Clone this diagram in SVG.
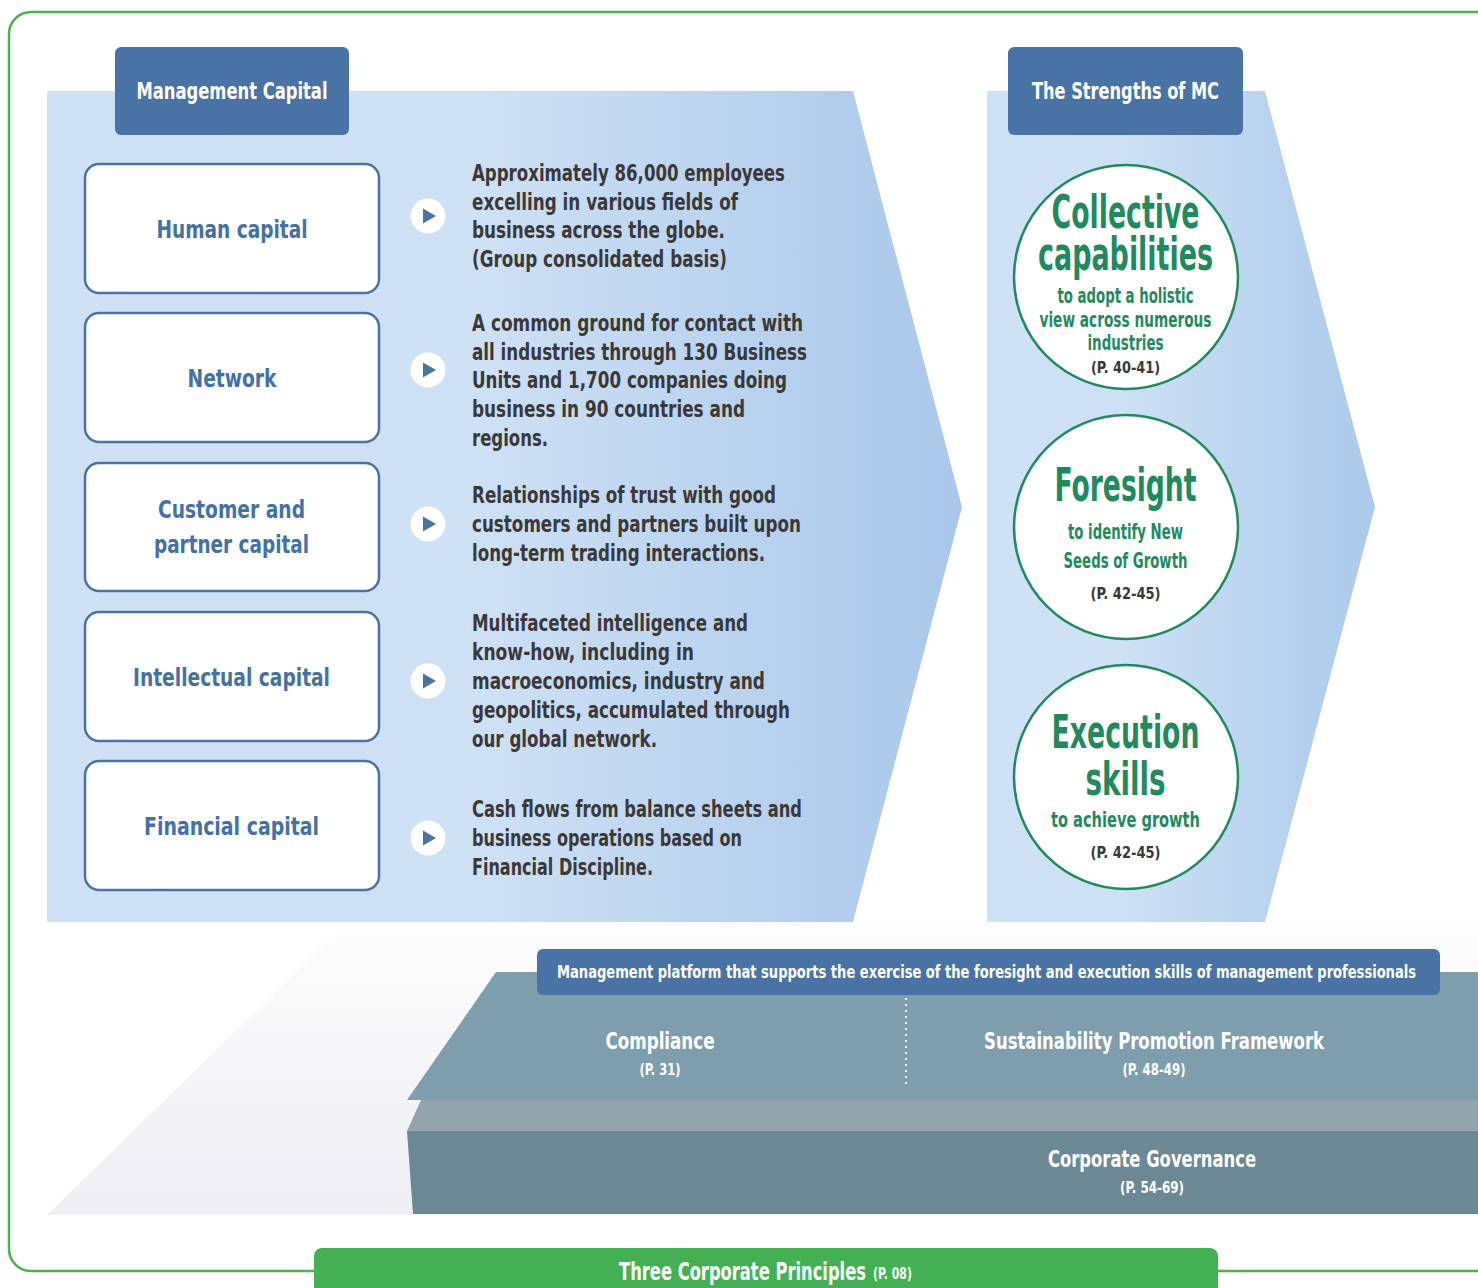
<svg xmlns="http://www.w3.org/2000/svg" width="1478" height="1288" viewBox="0 0 1478 1288">
<defs>
<linearGradient id="gLeft" x1="0" y1="0" x2="1" y2="0">
<stop offset="0" stop-color="#cfe1f5"/><stop offset="0.48" stop-color="#cde0f4"/><stop offset="1" stop-color="#a9c7ea"/>
</linearGradient>
<linearGradient id="gRight" x1="0" y1="0" x2="1" y2="0">
<stop offset="0" stop-color="#cfe1f5"/><stop offset="0.35" stop-color="#cde0f4"/><stop offset="1" stop-color="#abc9eb"/>
</linearGradient>
<linearGradient id="gGround" x1="0" y1="0" x2="0" y2="1">
<stop offset="0" stop-color="#fdfdfd"/><stop offset="1" stop-color="#eeeef3"/>
</linearGradient>
<style>
text{font-family:"Liberation Sans Narrow","DejaVu Sans Condensed","Liberation Sans",sans-serif;font-weight:bold;}
.tab{fill:#4a73a5;}
.tabt{fill:#ffffff;font-size:23px;text-anchor:middle;}
.box{fill:#ffffff;stroke:#4a73a5;stroke-width:2.5;}
.boxt{fill:#4470a8;font-size:25px;text-anchor:middle;}
.body{fill:#3b3838;font-size:23px;}
.circ{fill:#ffffff;stroke:#1f8a5e;stroke-width:2.5;}
.ch{fill:#1f8a5e;font-size:46px;text-anchor:middle;}
.cs{fill:#1f8a5e;font-size:22px;text-anchor:middle;}
.cp{fill:#3a3838;font-size:16px;text-anchor:middle;}
.play{fill:#ffffff;}
.tri{fill:#4a73a5;}
.wt{fill:#ffffff;text-anchor:middle;}
</style>
</defs>
<rect width="1478" height="1288" fill="#ffffff"/>
<rect x="9" y="12" width="1520" height="1259" rx="22" fill="none" stroke="#4db04f" stroke-width="2.5"/>

<g id="ground">
<polygon points="47,1215 347,922 1478,922 1478,1215" fill="url(#gGround)"/>
</g>

<g id="management-capital-panel">
<polygon points="47,91 853,91 962,507 853,922 47,922" fill="url(#gLeft)"/>
<rect class="tab" x="115" y="47" width="234" height="88" rx="6"/>
<text class="tabt" x="232" y="99" textLength="191" lengthAdjust="spacingAndGlyphs">Management Capital</text>
</g>

<g id="strengths-panel">
<polygon points="987,91 1265,91 1375,507 1265,922 987,922" fill="url(#gRight)"/>
<rect class="tab" x="1008" y="47" width="235" height="88" rx="6"/>
<text class="tabt" x="1125.5" y="99" textLength="187" lengthAdjust="spacingAndGlyphs">The Strengths of MC</text>
</g>

<g id="human-capital">
<rect class="box" x="85" y="164" width="294" height="129" rx="14"/>
<text class="boxt" x="232" y="237.5" textLength="151" lengthAdjust="spacingAndGlyphs">Human capital</text>
</g>
<g id="network">
<rect class="box" x="85" y="313" width="294" height="129" rx="14"/>
<text class="boxt" x="232" y="386.5" textLength="89" lengthAdjust="spacingAndGlyphs">Network</text>
</g>
<g id="customer-partner-capital">
<rect class="box" x="85" y="463" width="294" height="128" rx="14"/>
<text class="boxt" x="231.5" y="518" textLength="147" lengthAdjust="spacingAndGlyphs">Customer and</text>
<text class="boxt" x="231.5" y="553" textLength="155" lengthAdjust="spacingAndGlyphs">partner capital</text>
</g>
<g id="intellectual-capital">
<rect class="box" x="85" y="612" width="294" height="129" rx="14"/>
<text class="boxt" x="231.5" y="685.5" textLength="197" lengthAdjust="spacingAndGlyphs">Intellectual capital</text>
</g>
<g id="financial-capital">
<rect class="box" x="85" y="761" width="294" height="129" rx="14"/>
<text class="boxt" x="231.5" y="834.5" textLength="175" lengthAdjust="spacingAndGlyphs">Financial capital</text>
</g>

<g id="connectors">
<circle class="play" cx="428" cy="216" r="17.5"/><polygon class="tri" points="423,208.5 436,216 423,223.5"/>
<circle class="play" cx="428" cy="370" r="17.5"/><polygon class="tri" points="423,362.5 436,370 423,377.5"/>
<circle class="play" cx="428" cy="524" r="17.5"/><polygon class="tri" points="423,516.5 436,524 423,531.5"/>
<circle class="play" cx="428" cy="681" r="17.5"/><polygon class="tri" points="423,673.5 436,681 423,688.5"/>
<circle class="play" cx="428" cy="838" r="17.5"/><polygon class="tri" points="423,830.5 436,838 423,845.5"/>
</g>

<g id="desc-human">
<text class="body" x="472" y="181" textLength="313" lengthAdjust="spacingAndGlyphs">Approximately 86,000 employees</text>
<text class="body" x="472" y="209.5" textLength="266" lengthAdjust="spacingAndGlyphs">excelling in various fields of</text>
<text class="body" x="472" y="238" textLength="253" lengthAdjust="spacingAndGlyphs">business across the globe.</text>
<text class="body" x="472" y="267" textLength="255" lengthAdjust="spacingAndGlyphs">(Group consolidated basis)</text>
</g>
<g id="desc-network">
<text class="body" x="472" y="331" textLength="331" lengthAdjust="spacingAndGlyphs">A common ground for contact with</text>
<text class="body" x="472" y="359.5" textLength="335" lengthAdjust="spacingAndGlyphs">all industries through 130 Business</text>
<text class="body" x="472" y="388" textLength="315" lengthAdjust="spacingAndGlyphs">Units and 1,700 companies doing</text>
<text class="body" x="472" y="417" textLength="273" lengthAdjust="spacingAndGlyphs">business in 90 countries and</text>
<text class="body" x="472" y="445.5" textLength="76" lengthAdjust="spacingAndGlyphs">regions.</text>
</g>
<g id="desc-customer">
<text class="body" x="472" y="503" textLength="304" lengthAdjust="spacingAndGlyphs">Relationships of trust with good</text>
<text class="body" x="472" y="532" textLength="329" lengthAdjust="spacingAndGlyphs">customers and partners built upon</text>
<text class="body" x="472" y="561" textLength="293" lengthAdjust="spacingAndGlyphs">long-term trading interactions.</text>
</g>
<g id="desc-intellectual">
<text class="body" x="472" y="631" textLength="276" lengthAdjust="spacingAndGlyphs">Multifaceted intelligence and</text>
<text class="body" x="472" y="660" textLength="222" lengthAdjust="spacingAndGlyphs">know-how, including in</text>
<text class="body" x="472" y="689" textLength="293" lengthAdjust="spacingAndGlyphs">macroeconomics, industry and</text>
<text class="body" x="472" y="718" textLength="318" lengthAdjust="spacingAndGlyphs">geopolitics, accumulated through</text>
<text class="body" x="472" y="747" textLength="185" lengthAdjust="spacingAndGlyphs">our global network.</text>
</g>
<g id="desc-financial">
<text class="body" x="472" y="817" textLength="330" lengthAdjust="spacingAndGlyphs">Cash flows from balance sheets and</text>
<text class="body" x="472" y="846" textLength="270" lengthAdjust="spacingAndGlyphs">business operations based on</text>
<text class="body" x="472" y="875" textLength="181" lengthAdjust="spacingAndGlyphs">Financial Discipline.</text>
</g>

<g id="collective-capabilities">
<circle class="circ" cx="1126" cy="277" r="112"/>
<text class="ch" x="1125.5" y="228" textLength="148" lengthAdjust="spacingAndGlyphs">Collective</text>
<text class="ch" x="1125.5" y="270" textLength="175" lengthAdjust="spacingAndGlyphs">capabilities</text>
<text class="cs" x="1125.5" y="303" textLength="136" lengthAdjust="spacingAndGlyphs">to adopt a holistic</text>
<text class="cs" x="1125.5" y="327" textLength="172" lengthAdjust="spacingAndGlyphs">view across numerous</text>
<text class="cs" x="1125.5" y="350" textLength="76" lengthAdjust="spacingAndGlyphs">industries</text>
<text class="cp" x="1125.5" y="373" textLength="69" lengthAdjust="spacingAndGlyphs">(P. 40-41)</text>
</g>
<g id="foresight">
<circle class="circ" cx="1126" cy="527" r="112"/>
<text class="ch" x="1125.5" y="501" textLength="142" lengthAdjust="spacingAndGlyphs">Foresight</text>
<text class="cs" x="1125.5" y="538.5" textLength="115" lengthAdjust="spacingAndGlyphs">to identify New</text>
<text class="cs" x="1125.5" y="568" textLength="124" lengthAdjust="spacingAndGlyphs">Seeds of Growth</text>
<text class="cp" x="1125.5" y="599" textLength="70" lengthAdjust="spacingAndGlyphs">(P. 42-45)</text>
</g>
<g id="execution-skills">
<circle class="circ" cx="1126" cy="777" r="112"/>
<text class="ch" x="1125.5" y="748" textLength="148" lengthAdjust="spacingAndGlyphs">Execution</text>
<text class="ch" x="1125.5" y="795" textLength="80" lengthAdjust="spacingAndGlyphs">skills</text>
<text class="cs" x="1125.5" y="827" textLength="149" lengthAdjust="spacingAndGlyphs">to achieve growth</text>
<text class="cp" x="1125.5" y="858" textLength="70" lengthAdjust="spacingAndGlyphs">(P. 42-45)</text>
</g>

<g id="platform">
<polygon points="496,972 1478,972 1478,1100 407,1100" fill="#7f9ead"/>
<polygon points="421,1100 1478,1100 1478,1131 407,1131" fill="#93a3ae"/>
<polygon points="407,1131 1478,1131 1478,1214 413,1214" fill="#6d8895"/>
<line x1="906" y1="998" x2="906" y2="1086" stroke="#ffffff" stroke-width="2" stroke-dasharray="2,4"/>
</g>
<g id="platform-label">
<rect class="tab" x="537" y="949" width="903" height="46" rx="6"/>
<text class="wt" x="986.5" y="978" font-size="17.5" textLength="859" lengthAdjust="spacingAndGlyphs">Management platform that supports the exercise of the foresight and execution skills of management professionals</text>
</g>
<g id="compliance">
<text class="wt" x="660" y="1049" font-size="23" textLength="109" lengthAdjust="spacingAndGlyphs">Compliance</text>
<text class="wt" x="660" y="1075" font-size="15" textLength="41" lengthAdjust="spacingAndGlyphs">(P. 31)</text>
</g>
<g id="sustainability">
<text class="wt" x="1154" y="1049" font-size="23" textLength="340" lengthAdjust="spacingAndGlyphs">Sustainability Promotion Framework</text>
<text class="wt" x="1154" y="1075" font-size="15" textLength="63" lengthAdjust="spacingAndGlyphs">(P. 48-49)</text>
</g>
<g id="corporate-governance">
<text class="wt" x="1152" y="1167" font-size="23" textLength="208" lengthAdjust="spacingAndGlyphs">Corporate Governance</text>
<text class="wt" x="1152" y="1193" font-size="15" textLength="64" lengthAdjust="spacingAndGlyphs">(P. 54-69)</text>
</g>

<g id="three-corporate-principles">
<rect x="314" y="1248" width="904" height="60" rx="8" fill="#43b153"/>
<text y="1280" fill="#ffffff"><tspan x="619" font-size="24" textLength="247" lengthAdjust="spacingAndGlyphs">Three Corporate Principles</tspan><tspan x="873" y="1279" font-size="15" textLength="39" lengthAdjust="spacingAndGlyphs">(P. 08)</tspan></text>
</g>
</svg>
